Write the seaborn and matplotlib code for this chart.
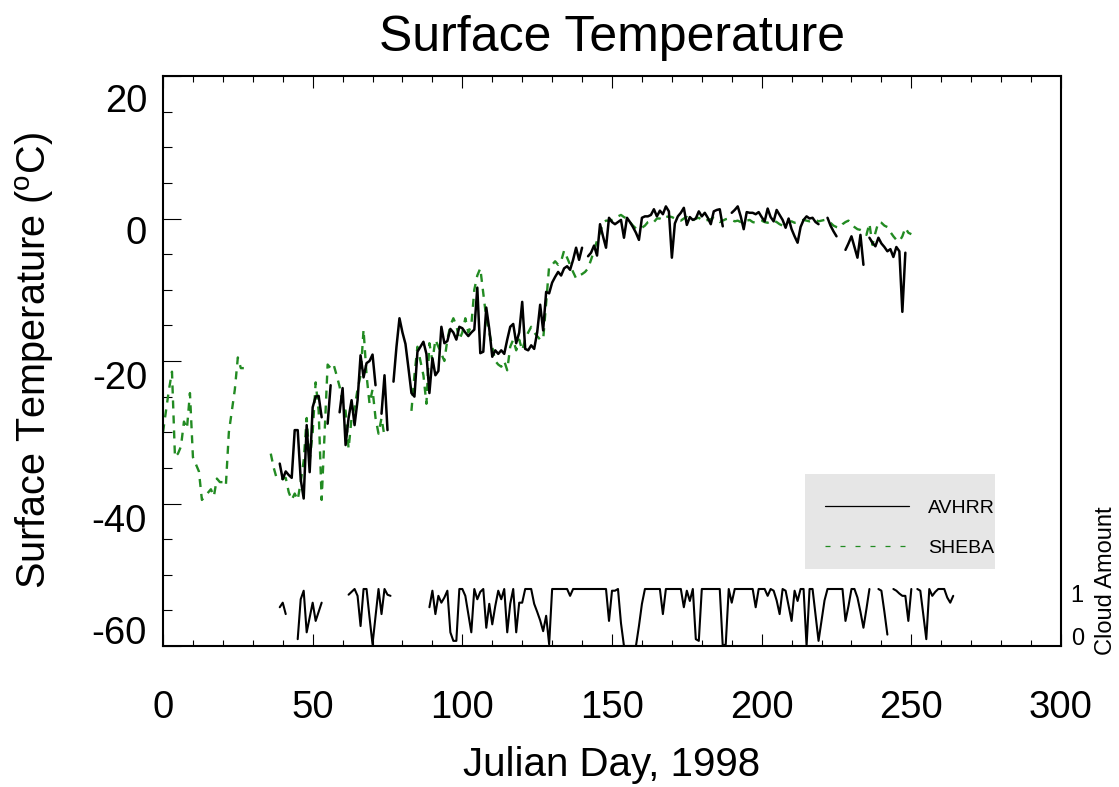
import numpy as np
import pandas as pd
import matplotlib
matplotlib.use("Agg")
import matplotlib.pyplot as plt
import matplotlib.transforms as mtransforms
from matplotlib.lines import Line2D
from matplotlib.patches import Rectangle
from matplotlib.ticker import MultipleLocator
import seaborn as sns

nan = np.nan

# ---------------- data ----------------
sheba_start_day = 0
sheba_temp = [
    -30, -27, -24, -21.5, -33.5, -33, -32, -28.5, -29.5, -24.5,
    -33.5, -34.5, -35.5, -39.5, -39, -38.5, -38, -39, -36.5, -37,
    -37, -37.5, -30, -27, -24, -19.5, -21, -21,
    nan, nan, nan, nan, nan, nan, nan, nan,
    -33, -35, -36.5, -36.5, -36.5, -36.4, -38.4, -39.5, -38.6, -39.5,
    -37, -34, -28, -34, -30, -23, -27, -39.5, -30, -20.5,
    -21, -20.5, -22, -23.6, -26, -27, -32.3, -28, -26.5, -24,
    -22, -15.6, -22, -26, -24, -28, -30.2, -28, -30.6,
    nan, nan, nan, nan, nan, nan, nan, nan,
    -27, -22, -18, -20, -22, -26, -17.5, -20, -17, -18,
    -19, -20, -17, -15, -14, -15, -17, -16, -14, -16,
    -15, -10, -8, -7, -10.5, -14, -16, -18, -20, -20.5,
    -20.8, -20, -21.3, -18, -17, -18.5, -17, -18.5, -17, -16,
    -15.2, -16, -16.5, -17, -17, -11.8, -6.7, -6.5, -6, -6.5,
    -6, -4.5, -5.5, -6.5, -7.5, -8.4, -8, -7.8, -7.5, -7,
    -5.8, -4.5, -3.1, -2, -0.6, -0.3, -0.3, -0.2, 0, 0.3,
    0.5, 0.2, 0, -0.5, -1, -1.4, -1.5, -1.3, -1, -0.5,
    -0.3, -0.5, 0, 0, -0.2, 0.2, 0.3, 0.2, 0, -0.2,
    -0.3, 0, 0.2, -0.1, -0.3, 0, 0.1, -0.2, -0.4, -0.2,
    -0.1, 0.1, -0.2, -0.5, -0.3, -0.1, 0, -0.2, -0.4, -0.3,
    -0.5, -0.5, -0.3, -0.2, -0.5, -0.6, -0.4, -0.3, -0.5, -0.6,
    -0.4, -0.3, -0.5, -0.8, -1, -0.7, -0.5, -0.4, -0.6, -0.5,
    -0.3, -0.2, -0.3, -0.4, -0.3, -0.2, -0.4, -0.3, -0.2, -0.3,
    -0.6, -1, -1.2, -1.3, -0.8, -0.5, -0.3, -0.8, -1.2, -1.5,
    -1.6, -1.8, -2.3, -0.7, -3.7, -2, -0.5, -0.6, -1, -1.2,
    -1.9, -2.5, -3, -3.2, -2.5, -1.3, -2, -2.2,
]

avhrr_start_day = 39
avhrr_temp = [
    -34.4, -36.6, -35.5, -36, -36.4, -29.7, -29.7, -36.6, -39.3, -29,
    -35.6, -26.5, -25, -24.9, -27.9, nan, -28.8, -23.4, nan, nan,
    -27.2, -23.8, -31.8, -28, -25.5, -29, -25.5, -19.2, -22.3, -20.3,
    -20, -19.1, -23.4, nan, -27.4, -22, -29.7, nan, -22.9, -18,
    -14, -16, -17.6, -21, -24.5, -25, -18.7, -18, -17.3, -19,
    -24.5, -19.6, -22, -21.4, -15.2, -17.5, -17.2, -15.5, -16, -17,
    -15.2, -15.4, -16, -16.5, -16, -15.6, -9.7, -18.9, -18.7, -12.5,
    -15.5, -19.4, -18.5, -19, -18.5, -19, -17, -15.2, -14.8, -17.5,
    -16, -11.7, -18.3, -18.5, -17.8, -18.3, -16, -12.1, -15.7, -10.3,
    -10.5, -9, -8.2, -7.5, -8, -7, -6.7, -7.2, -5.8, -4.1,
    -5.8, -4.1, nan, -5.3, -4.8, -3.8, -5.2, -0.8, -2.5, -4.1,
    0.1, -0.5, -0.8, -0.5, -0.2, -2.7, 0.1, -0.5, -1.2, -2,
    -3, 0.1, 0.3, 0.3, 0.5, 1.3, 0.3, 1.1, 0.6, 1.7,
    1, -5.5, -0.7, 0.3, 0.8, 1.5, -0.9, 0.2, -0.2, 0,
    1, 0.3, 0.8, 0.1, -0.8, 1, 1.2, 1.3, -1.1, nan,
    nan, 0.8, 1.2, 1.7, 0.3, -1.5, 0.9, 0.8, 0.8, 0.6,
    0.9, 0.2, -0.4, 1.4, 0.2, -0.4, 1.2, 0.5, -0.2, -1.3,
    0, -1.5, -2.5, -3.4, -1.2, -0.2, 0.3, 0, 0.1, -0.5,
    -0.8, nan, nan, 0.1, -1, -1.8, -2.5, nan, nan, -4.4,
    -3.5, -2.5, -4, -5.5, -2.3, -6.5, nan, -2.7, -3.4, -3.9,
    -2.7, -3.5, -4, -4.6, -4.3, -5.4, -4, -4.6, -13.1, -4.8,
]

cloud_start_day = 39
cloud_amount = [
    0.68, 0.76, 0.56, nan, nan, nan, 0.12, 0.82, 0.97, 0.24,
    0.5, 0.76, 0.44, 0.6, 0.76, nan, nan, nan, 0.99, nan,
    nan, nan, nan, 0.9, 0.95, 1, 0.88, 0.35, 1, 1,
    0.5, 0.03, 0.52, 1, 0.56, 1, 0.9, 0.88, nan, nan,
    nan, nan, nan, nan, nan, nan, nan, nan, nan, nan,
    0.68, 0.97, 0.56, 0.88, 0.76, 0.85, 0.97, 0.24, 0.09, 0.09,
    1, 1, 0.88, 0.56, 0.24, 1, 0.82, 0.95, 1, 0.32,
    0.74, 0.38, 0.7, 0.97, 0.82, 1, 0.24, 0.74, 1, 0.24,
    0.76, 0.76, 1, 1, 1, 0.74, 0.6, 0.45, 0.26, 0.53,
    0.03, 1, 1, 1, 1, 1, 1, 0.88, 1, 1,
    1, 1, 1, 1, 1, 1, 1, 1, 1, 1,
    0.44, 0.97, 0.97, 1, 0.4, 0, 0, 0, 0, 0,
    0.35, 0.74, 1, 1, 1, 1, 1, 1, 0.56, 1,
    1, 1, 1, 1, 1, 0.68, 0.97, 0.79, 1, 0.12,
    0.09, 1, 1, 1, 1, 1, 1, 1, 0, 0.03,
    1, 0.76, 1, 1, 1, 1, 1, 1, 1, 0.68,
    1, 1, 1, 0.88, 1, 0.97, 0.8, 0.56, 1, 0.97,
    0.7, 0.44, 0.97, 0.79, 1, 1, 0, 1, 1, 0.55,
    0.09, 0.44, 0.8, 1, 1, 1, 1, 1, 1, 0.44,
    0.7, 1, 1, 0.85, 0.6, 0.32, 0.65, 1, nan, nan,
    1, 0.97, 0.6, 0.2, nan, 1, 0.97, 0.92, 0.88, 0.88,
    0.44, 1, nan, 1, 0.97, 0.55, 0.12, 1, 0.88, 0.95,
    1, 1, 1, 0.85, 0.76, 0.88,
]

x_ticks = [0, 50, 100, 150, 200, 250, 300]
y_ticks = [-60, -40, -20, 0, 20]
cloud_ticks = [0, 1]
legend_labels = ["AVHRR", "SHEBA"]

# ---------------- helpers ----------------
def to_segments(start, values, name):
    vals = np.array(values, dtype=float)
    days = np.arange(start, start + len(vals))
    gap = np.isnan(vals)
    seg = np.cumsum(gap)
    df = pd.DataFrame({"day": days, "value": vals, "seg": seg, "series": name})
    return df[~gap].reset_index(drop=True)

sheba_df = to_segments(sheba_start_day, sheba_temp, "SHEBA")
avhrr_df = to_segments(avhrr_start_day, avhrr_temp, "AVHRR")
cloud_df = to_segments(cloud_start_day, cloud_amount, "Cloud")

# ---------------- style ----------------
sns.set_style("ticks")
plt.rcParams["font.family"] = ["Liberation Sans", "DejaVu Sans"]
plt.rcParams["mathtext.fontset"] = "custom"
plt.rcParams["mathtext.rm"] = "Liberation Sans"
plt.rcParams["lines.scale_dashes"] = False
plt.rcParams["axes.unicode_minus"] = False
for key in ["text.color", "axes.labelcolor", "xtick.color", "ytick.color",
            "axes.edgecolor"]:
    plt.rcParams[key] = "black"

green = "#228B22"
W, H = 1119, 787
fig = plt.figure(figsize=(W / 100, H / 100), dpi=100)
L, R, T, B = 163, 1061, 76, 646
ax = fig.add_axes([L / W, 1 - B / H, (R - L) / W, (B - T) / H])
ax2 = ax.twinx()

sns.lineplot(data=sheba_df, x="day", y="value", units="seg", estimator=None,
             ax=ax, color=green, lw=1.7, linestyle=(0, (5.8, 5.0)), legend=False)
sns.lineplot(data=avhrr_df, x="day", y="value", units="seg", estimator=None,
             ax=ax, color="black", lw=1.8, legend=False)
sns.lineplot(data=cloud_df, x="day", y="value", units="seg", estimator=None,
             ax=ax2, color="black", lw=1.5, legend=False)

ax.set_xlim(0, 300)
ax.set_ylim(-60, 20)
ax2.set_ylim(0, 10)
ax2.set_xlim(0, 300)

for s in ax.spines.values():
    s.set_visible(True)
    s.set_linewidth(1.5)
    s.set_color("black")
for s in ax2.spines.values():
    s.set_visible(False)

ax.set_xticks(x_ticks)
ax.set_yticks(y_ticks)
ax.xaxis.set_minor_locator(MultipleLocator(10))
ax.yaxis.set_minor_locator(MultipleLocator(5))
ax.tick_params(axis="x", which="both", direction="in", top=True, bottom=True,
               labelsize=27.5, pad=31.5, width=0.8, color="black")
ax.tick_params(axis="x", which="major", length=8.5)
ax.tick_params(axis="x", which="minor", length=4.2)
ax.tick_params(axis="y", which="both", direction="in", left=True, right=False,
               labelsize=27.5, pad=11.5, width=0.8, color="black")
ax.tick_params(axis="y", which="major", length=13)
ax.tick_params(axis="y", which="minor", length=6.5)

ax2.set_yticks(cloud_ticks)
ax2.yaxis.set_minor_locator(plt.NullLocator())
ax2.tick_params(axis="y", which="both", length=0, right=True, left=False,
                labelright=True, labelleft=False, labelsize=17, pad=7)
ax2.set_ylabel("")
ax2.set_xlabel("")

ax.set_title("Surface Temperature", fontsize=36, pad=18)
ax.set_xlabel("Julian Day, 1998", fontsize=29)
ax.set_ylabel(r"Surface Temperature ($^{\mathrm{o}}$C)", fontsize=28.5)
ax.xaxis.set_label_coords(0.5, -0.176)
ax.yaxis.set_label_coords(-0.119, 0.5)

ax2.text(1.0624, 0.114, "Cloud Amount", transform=ax2.transAxes, rotation=90,
         ha="right", va="center", fontsize=17)

# IDL-like vertical placement of tick labels
def shift(label, dy_px):
    label.set_transform(label.get_transform() +
                        mtransforms.ScaledTranslation(0, dy_px / 100, fig.dpi_scale_trans))

for tick, val in zip(ax.yaxis.get_major_ticks(), y_ticks):
    lab = tick.label1
    if val == -60:
        lab.set_verticalalignment("baseline")
        shift(lab, 2.5)
    elif val == 20:
        lab.set_verticalalignment("top")
        shift(lab, -8.5)
    else:
        lab.set_verticalalignment("top")
        if val == 0:
            shift(lab, 3)

for tick, val in zip(ax2.yaxis.get_major_ticks(), cloud_ticks):
    lab = tick.label2
    lab.set_horizontalalignment("left")
    if val == 0:
        lab.set_verticalalignment("baseline")
        shift(lab, 1)
    else:
        lab.set_verticalalignment("top")
        shift(lab, 4)

# legend box + entries
x0 = (805 - L) / (R - L)
x1 = (995 - L) / (R - L)
y0 = (B - 569) / (B - T)
y1 = (B - 474) / (B - T)
ax.add_patch(Rectangle((x0, y0), x1 - x0, y1 - y0, transform=ax.transAxes,
                       facecolor="#e6e6e6", edgecolor="none", zorder=3))
handles = [Line2D([], [], color="black", lw=0.9),
           Line2D([], [], color=green, lw=0.9, linestyle=(0, (3.6, 7.2)))]
leg = ax.legend(handles, legend_labels, loc="upper left",
                bbox_to_anchor=((825 - L) / (R - L), (B - 499) / (B - T)),
                frameon=False, borderpad=0, borderaxespad=0,
                handlelength=4.3, handletextpad=1.0, labelspacing=1.15,
                fontsize=14)
leg.set_zorder(4)

fig.savefig("out.png", dpi=100)
